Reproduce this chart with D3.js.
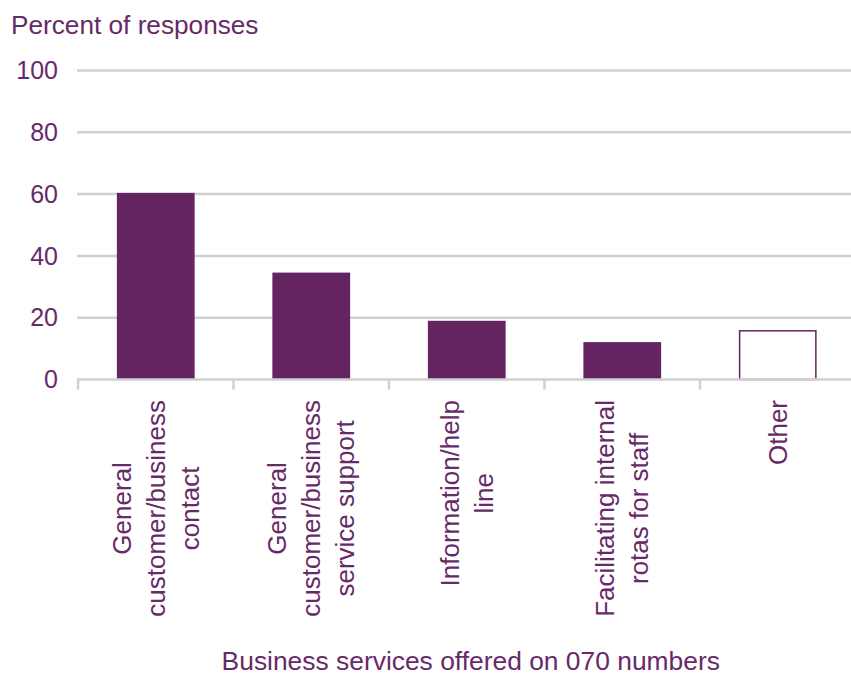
<!DOCTYPE html>
<html>
<head>
<meta charset="utf-8">
<script src="https://cdn.jsdelivr.net/npm/d3@7"></script>
<style>
  html, body { margin: 0; padding: 0; background: #fff; }
  svg { display: block; font-family: "Liberation Sans", Arial, sans-serif; }
</style>
</head>
<body>
<svg id="chart" width="851" height="675"></svg>
<script>
// Business services offered on 070 numbers (percent of responses)
const categories = [
  "General customer/business contact",
  "General customer/business service support",
  "Information/help line",
  "Facilitating internal rotas for staff",
  "Other"
];
const categoryLines = [
  ["General", "customer/business", "contact"],
  ["General", "customer/business", "service support"],
  ["Information/help", "line"],
  ["Facilitating internal", "rotas for staff"],
  ["Other"]
];
const values = [60.4, 34.6, 19.0, 12.1, 16.0];
const outlined = [false, false, false, false, true];
const yTicks = [0, 20, 40, 60, 80, 100];
const yTitle = "Percent of responses";
const xTitle = "Business services offered on 070 numbers";

const purple = "#632461";
const textColor = "#672a68";
const gridColor = "#d0d0d0";

const svg = d3.select("#chart");
const plotLeft = 78, plotRight = 855.5, plotTop = 70.5, plotBottom = 379.5;

const x = d3.scaleBand()
  .domain(categories)
  .range([plotLeft, plotRight])
  .paddingInner(0.5)
  .paddingOuter(0.25);

const y = d3.scaleLinear().domain([0, 100]).range([plotBottom, plotTop]);

// horizontal gridlines
svg.append("g")
  .selectAll("line")
  .data(yTicks.filter(d => d > 0))
  .join("line")
  .attr("x1", plotLeft - 1).attr("x2", 851)
  .attr("y1", d => y(d)).attr("y2", d => y(d))
  .attr("stroke", gridColor).attr("stroke-width", 2.5);

// y tick labels
svg.append("g")
  .selectAll("text")
  .data(yTicks)
  .join("text")
  .attr("x", 58)
  .attr("y", d => y(d))
  .attr("dy", "0.35em")
  .attr("text-anchor", "end")
  .attr("font-size", 25)
  .attr("fill", textColor)
  .text(d => d);

// y axis title
svg.append("text")
  .attr("x", 11).attr("y", 34)
  .attr("font-size", 26.2)
  .attr("fill", textColor)
  .text(yTitle);

// bars
svg.append("g")
  .selectAll("rect")
  .data(categories.map((c, i) => ({ c, v: values[i], o: outlined[i] })))
  .join("rect")
  .attr("x", d => d.o ? x(d.c) + 0.75 : x(d.c))
  .attr("width", d => d.o ? x.bandwidth() - 1.5 : x.bandwidth())
  .attr("y", d => d.o ? y(d.v) + 0.75 : y(d.v))
  .attr("height", d => d.o ? y(0) - y(d.v) - 0.75 : y(0) - y(d.v))
  .attr("fill", d => d.o ? "#fff" : purple)
  .attr("stroke", d => d.o ? purple : "none")
  .attr("stroke-width", 1.5);

// category axis line and boundary ticks
const step = x.step();
svg.append("line")
  .attr("x1", plotLeft - 1).attr("x2", 851)
  .attr("y1", y(0)).attr("y2", y(0))
  .attr("stroke", gridColor).attr("stroke-width", 2.5);
svg.append("g")
  .selectAll("line")
  .data(d3.range(categories.length + 1))
  .join("line")
  .attr("x1", i => plotLeft + i * step).attr("x2", i => plotLeft + i * step)
  .attr("y1", y(0)).attr("y2", y(0) + 10)
  .attr("stroke", gridColor).attr("stroke-width", 2.5);

// rotated, centred multi-line category labels
const lineGap = 34;
const labelTop = 400;
categoryLines.forEach((lines, i) => {
  const cx = x(categories[i]) + x.bandwidth() / 2;
  const g = svg.append("g");
  const texts = g.selectAll("text")
    .data(lines)
    .join("text")
    .attr("font-size", 26)
    .attr("fill", textColor)
    .attr("text-anchor", "middle")
    .text(d => d);
  let maxLen = 0;
  texts.each(function () { maxLen = Math.max(maxLen, this.getComputedTextLength()); });
  const cy = labelTop + maxLen / 2;
  const n = lines.length;
  texts.attr("transform", (d, j) => {
    const lx = cx + (j - (n - 1) / 2) * lineGap;
    return `translate(${lx},${cy}) rotate(-90)`;
  }).attr("dy", "0.35em");
});

// x axis title
svg.append("text")
  .attr("x", (plotLeft + plotRight) / 2 + 4)
  .attr("y", 670)
  .attr("text-anchor", "middle")
  .attr("font-size", 26.4)
  .attr("fill", textColor)
  .text(xTitle);
</script>
</body>
</html>
